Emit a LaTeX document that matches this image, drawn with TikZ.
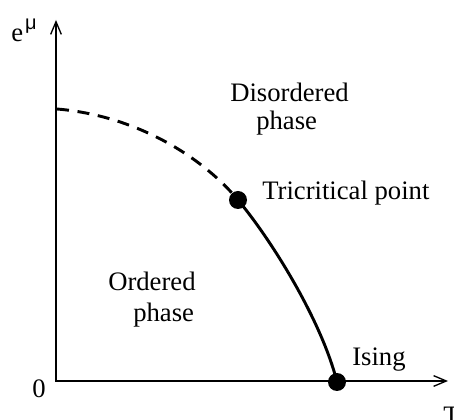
\documentclass[tikz,border=0pt]{standalone}
\usepackage{fontspec}
\setmainfont{Liberation Serif}
\newfontfamily\greekfont{Liberation Sans}
\usetikzlibrary{arrows.meta}

\tikzset{
  lbl/.style={inner sep=0pt, anchor=base west, font=\fontsize{20}{24}\selectfont},
  barb/.tip={Straight Barb[length=9.5pt,width=8pt,line width=1pt]},
  axis/.style={line width=1.2pt, barb-barb},
  dot/.style={circle, fill, inner sep=0pt, minimum size=13.5pt},
  phaseline/.style={line width=2.2pt},
}

\begin{document}
\begin{tikzpicture}[x=0.75pt, y=-0.75pt]
    \useasboundingbox (0,0) rectangle (454,420);

    % Axes
    \coordinate (O) at (56,381);
    \coordinate (ytop) at (56,20);
    \coordinate (xend) at (448,381);
    \draw[axis] (ytop) -- (O) -- (xend);

    % Tricritical and Ising points
    \node[dot] (tc) at (238,200) {};
    \node[dot] (ising) at (337,382) {};

    % First order line (dashed) and second order line (solid)
    \coordinate (start) at (57,109);
    \draw[phaseline, dash pattern=on 9pt off 6.5pt] (start) .. controls (140,116) and (205,160) .. (tc.center);
    \draw[phaseline] (tc.center) .. controls (273,242) and (322,322) .. (ising.center);

    % Labels
    \node[lbl] (emu) at (11,42) {e\hspace{1.5pt}\raisebox{9pt}{\fontsize{15}{18}\greekfont μ}};
    \node[lbl] (zero) at (32,398) {0};
    \node[lbl] (T) at (443,425) {T};
    \node[lbl] (dis) at (230,102) {Disordered};
    \node[lbl] (disp) at (256,130) {phase};
    \node[lbl] (tclbl) at (262,200) {Tricritical point};
    \node[lbl] (ord) at (108,291) {Ordered};
    \node[lbl] (ordp) at (133,322) {phase};
    \node[lbl] (isl) at (352,366) {Ising};
\end{tikzpicture}
\end{document}
